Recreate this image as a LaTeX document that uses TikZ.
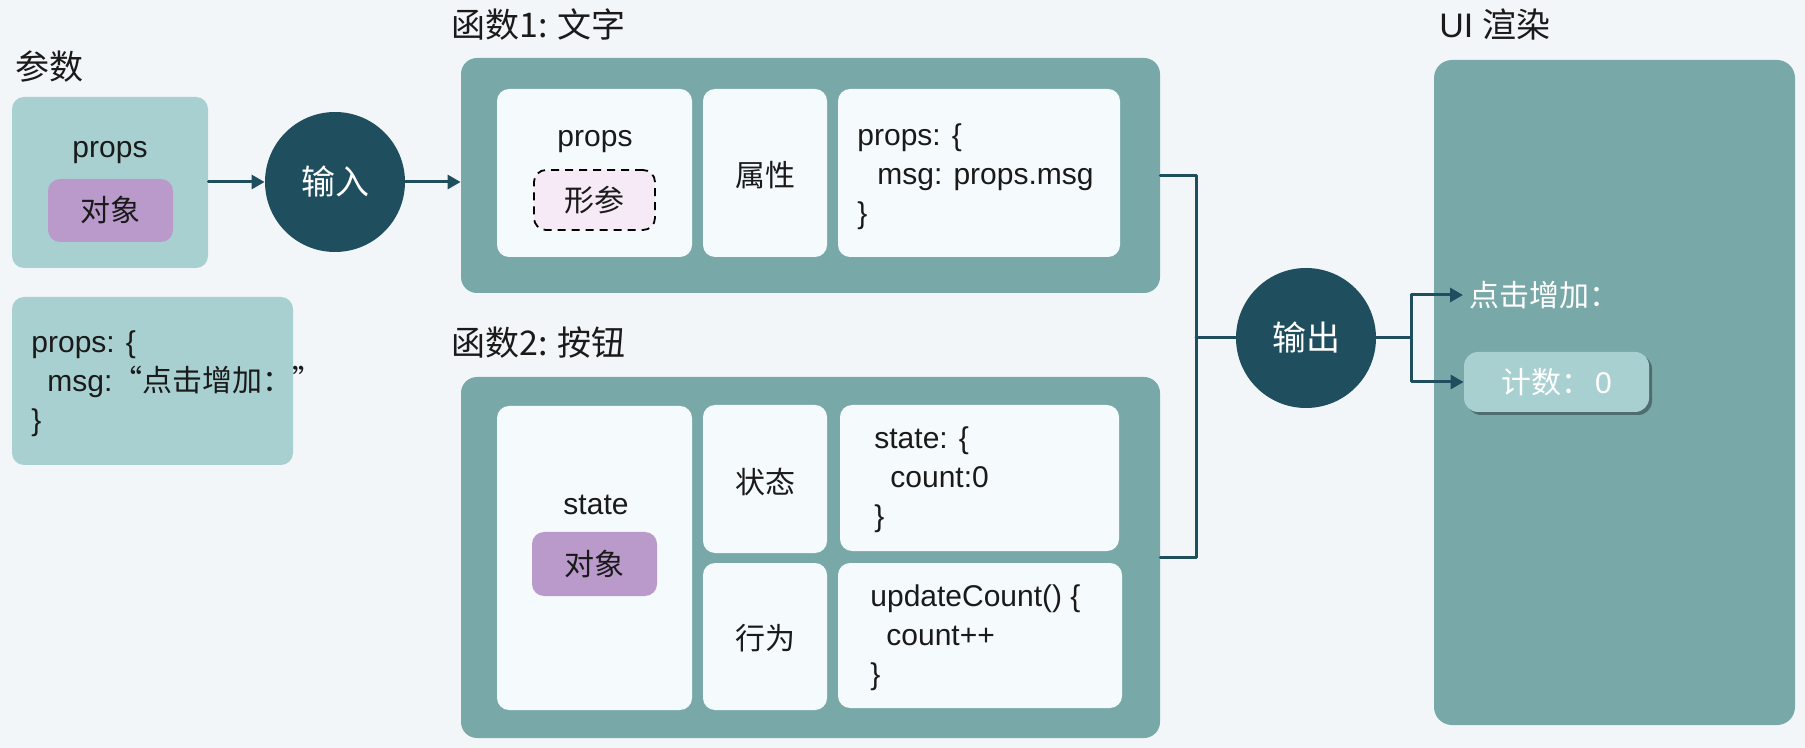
\documentclass[tikz,border=0pt]{standalone}
\usepackage{fontspec}
\setmainfont{Liberation Sans}
\newfontfamily\cjk{Noto Sans CJK SC}
\usetikzlibrary{arrows.meta,shadows}
\definecolor{bgc}{HTML}{F3F6F8}
\definecolor{lteal}{HTML}{A9D0D1}
\definecolor{tealc}{HTML}{79A8A9}
\definecolor{darkc}{HTML}{1F4E5F}
\definecolor{purp}{HTML}{B99ACB}
\definecolor{innerc}{HTML}{F5FBFC}
\definecolor{pinkc}{HTML}{F6EAF6}
\definecolor{txtc}{HTML}{1A1A1A}
\newcommand{\fbody}{\fontsize{15}{19.5}\selectfont}
\newcommand{\ftitle}{\fontsize{17}{20}\selectfont}
\tikzset{
  box/.style={draw=none, rounded corners=6pt, inner sep=0pt},
  outerbox/.style={box, fill=tealc, rounded corners=8pt},
  innerbox/.style={box, fill=innerc},
  lightbox/.style={box, fill=lteal},
  objbox/.style={box, fill=purp, font=\fbody\cjk, text=txtc},
  dashbox/.style={box, fill=pinkc, draw=black, dashed, dash pattern=on 4pt off 3pt, line width=0.9pt, font=\fbody\cjk, text=txtc},
  bigcircle/.style={circle, fill=darkc, inner sep=0pt, minimum size=70pt, text=white, font=\ftitle\cjk},
  lbl/.style={inner sep=0pt, text=txtc, font=\fbody},
  cjklbl/.style={inner sep=0pt, text=txtc, font=\fbody\cjk},
  code/.style={inner sep=0pt, text=txtc, font=\fbody, align=left},
  titlelbl/.style={inner sep=0pt, text=txtc, font=\ftitle, anchor=west},
  conn/.style={draw=darkc, line width=1.5pt, line cap=round, line join=round},
  arr/.style={conn, -{Triangle[length=6.5pt,width=7pt]}},
}
\begin{document}
\begin{tikzpicture}[x=0.5pt,y=-0.5pt]
\fill[bgc] (0,0) rectangle (1805,748);
\useasboundingbox (0,0) rectangle (1805,748);

% titles
\node[titlelbl] (tparam) at (15,67) {\cjk 参数};
\node[titlelbl] (tf1) at (451,25) {\cjk 函数1: 文字};
\node[titlelbl] (tf2) at (451,343) {\cjk 函数2: 按钮};
\node[titlelbl] (tui) at (1439,25) {UI {\cjk 渲染}};

% parameter boxes
\node[lightbox, minimum width=98pt, minimum height=85.5pt] (pA) at (110,182.5) {};
\node[lbl] (pAlbl) at (110,153) {props};
\node[objbox, minimum width=62.5pt, minimum height=31.5pt] (pAobj) at (110.5,210.5) {对象};

\node[lightbox, minimum width=140.5pt, minimum height=84pt] (pB) at (152.5,381) {};
\node[code, anchor=west] (pBcode) at (31,384) {props: \{\\\hspace*{8pt}msg:{\cjk “点击增加：”}\\\}};

% input circle
\node[bigcircle] (in) at (335,182) {输入};

% function 1
\node[outerbox, minimum width=349.5pt, minimum height=117.5pt] (f1) at (810.5,175.5) {};
\node[innerbox, minimum width=97.5pt, minimum height=84pt] (f1a) at (594.5,173) {};
\node[lbl] (f1albl) at (595,142) {props};
\node[dashbox, minimum width=60.5pt, minimum height=30pt] (f1form) at (594.5,200) {形参};
\node[innerbox, minimum width=62pt, minimum height=84pt] (f1b) at (765,173) {};
\node[cjklbl] (f1blbl) at (765,175) {属性};
\node[innerbox, minimum width=141pt, minimum height=84pt] (f1c) at (979,173) {};
\node[code, anchor=west] (f1code) at (857,177) {props: \{\\\hspace*{10pt}msg: props.msg\\\}};

% function 2
\node[outerbox, minimum width=349.5pt, minimum height=180.5pt] (f2) at (810.5,557.5) {};
\node[innerbox, minimum width=97.5pt, minimum height=152pt] (f2a) at (594.5,558) {};
\node[lbl] (f2albl) at (596,505) {state};
\node[objbox, minimum width=62.5pt, minimum height=32pt] (f2obj) at (594.5,564) {对象};
\node[innerbox, minimum width=62pt, minimum height=74pt] (f2b) at (765,479) {};
\node[cjklbl] (f2blbl) at (765,482) {状态};
\node[innerbox, minimum width=139.5pt, minimum height=73pt] (f2c) at (979.5,478) {};
\node[code, anchor=west] (f2ccode) at (874,480) {state: \{\\\hspace*{8pt}count:0\\\}};
\node[innerbox, minimum width=62pt, minimum height=73.5pt] (f2d) at (765,636.5) {};
\node[cjklbl] (f2dlbl) at (765,638) {行为};
\node[innerbox, minimum width=142pt, minimum height=72.5pt] (f2e) at (980,635.5) {};
\node[code, anchor=west] (f2ecode) at (870,638) {updateCount() \{\\\hspace*{8pt}count++\\\}};

% output circle
\node[bigcircle] (out) at (1306,338) {输出};

% UI panel
\node[box, fill=tealc, rounded corners=9pt, minimum width=180.5pt, minimum height=332.5pt] (ui) at (1614.5,392.5) {};
\node[inner sep=3pt, anchor=west, text=white, font=\fbody\cjk] (click) at (1463,295) {点击增加：};
\node[box, fill=lteal, rounded corners=7pt, minimum width=92.5pt, minimum height=30pt, text=white, font=\fbody\cjk,
      drop shadow={shadow xshift=1.5pt, shadow yshift=-1.5pt, fill=black, opacity=0.35}] (count) at (1556.5,382) {计数：\hspace{2pt}{\fontspec{Liberation Sans}0}};

% connectors
\coordinate (jx) at (1196,0);
\coordinate (jy) at (1411,338);
\draw[arr] (pA.east |- in.west) -- (in.west);
\draw[arr] (in.east) -- (in.east -| f1.west);
\draw[conn] (f1.east) -- (f1.east -| jx) -- (f2.east -| jx) -- (f2.east);
\draw[conn] (out.west -| jx) -- (out.west);
\draw[conn] (out.east) -- (jy);
\draw[arr] (jy) |- (click.west);
\draw[arr] (jy) |- (count.west);
\end{tikzpicture}
\end{document}
